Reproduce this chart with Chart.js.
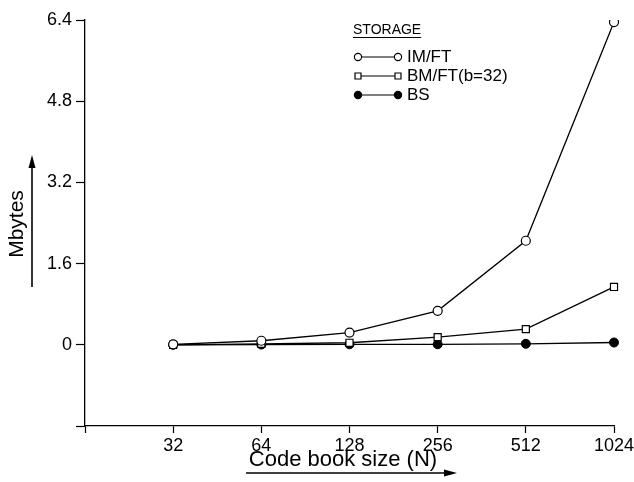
<!DOCTYPE html>
<html>
<head>
<meta charset="utf-8">
<script src="https://cdn.jsdelivr.net/npm/chart.js@4.4.1/dist/chart.umd.min.js"></script>
<style>
  html, body { margin: 0; padding: 0; background: #fff; }
  #wrap { width: 634px; height: 482px; position: relative; }
</style>
</head>
<body>
<div id="wrap"><canvas id="storageChart"></canvas></div>
<script>
// code book sizes (first slot is the empty tick at the axis origin)
const sizes = ["", "32", "64", "128", "256", "512", "1024"];
const imft = [null, 0.01, 0.08, 0.24, 0.67, 2.05, 6.36];
const bmft = [null, 0.0, 0.02, 0.04, 0.15, 0.31, 1.14];
const bs = [null, 0.0, 0.005, 0.01, 0.01, 0.02, 0.045];
const yTicks = [-1.6, 0, 1.6, 3.2, 4.8, 6.4];

const FONT = "'Liberation Sans', Arial, Helvetica, sans-serif";

// legend, axis titles and arrows drawn on top
const decor = {
  id: "decor",
  afterDraw(chart) {
    const c = chart.ctx;
    c.save();
    c.fillStyle = "#000";
    c.strokeStyle = "#000";

    // legend
    c.font = "14px " + FONT;
    c.textBaseline = "middle";
    c.textAlign = "left";
    c.fillText("STORAGE", 353, 30);
    const w = c.measureText("STORAGE").width;
    c.lineWidth = 1;
    c.beginPath();
    c.moveTo(353, 37.5);
    c.lineTo(353 + w, 37.5);
    c.stroke();

    const rows = [
      { label: "IM/FT", y: 57, ds: 0 },
      { label: "BM/FT(b=32)", y: 76, ds: 1 },
      { label: "BS", y: 95, ds: 2 }
    ];
    c.font = "17px " + FONT;
    rows.forEach(r => {
      const ds = chart.data.datasets[r.ds];
      c.lineWidth = 1.2;
      c.beginPath();
      c.moveTo(358, r.y);
      c.lineTo(398, r.y);
      c.stroke();
      [358, 398].forEach(x => {
        c.beginPath();
        if (ds.pointStyle === "rect") {
          c.rect(x - 3, r.y - 3, 6, 6);
        } else {
          c.arc(x, r.y, 3.6, 0, Math.PI * 2);
        }
        c.fillStyle = ds.pointBackgroundColor;
        c.fill();
        c.stroke();
      });
      c.fillStyle = "#000";
      c.fillText(r.label, 407, r.y);
    });

    // y title + arrow
    c.save();
    c.translate(17, 224);
    c.rotate(-Math.PI / 2);
    c.font = "21px " + FONT;
    c.textAlign = "center";
    c.fillText("Mbytes", 0, 0);
    c.restore();
    c.lineWidth = 1.6;
    c.beginPath();
    c.moveTo(32, 287);
    c.lineTo(32, 166);
    c.stroke();
    c.beginPath();
    c.moveTo(32, 155);
    c.lineTo(28.5, 168);
    c.lineTo(35.5, 168);
    c.closePath();
    c.fill();

    // x title + arrow
    c.font = "22px " + FONT;
    c.textAlign = "center";
    c.fillText("Code book size (N)", 343, 460);
    c.beginPath();
    c.moveTo(246, 473);
    c.lineTo(445, 473);
    c.stroke();
    c.beginPath();
    c.moveTo(457, 473);
    c.lineTo(444, 469.5);
    c.lineTo(444, 476.5);
    c.closePath();
    c.fill();

    c.restore();
  }
};

const ctx = document.getElementById("storageChart");

new Chart(ctx, {
  type: "line",
  data: {
    labels: sizes,
    datasets: [
      {
        label: "IM/FT",
        data: imft,
        borderColor: "#000",
        borderWidth: 1.3,
        pointStyle: "circle",
        pointRadius: 4.5,
        pointBorderWidth: 1.2,
        pointBorderColor: "#000",
        pointBackgroundColor: "#fff",
        tension: 0
      },
      {
        label: "BM/FT(b=32)",
        data: bmft,
        borderColor: "#000",
        borderWidth: 1.3,
        pointStyle: "rect",
        pointRadius: 5,
        pointBorderWidth: 1.2,
        pointBorderColor: "#000",
        pointBackgroundColor: "#fff",
        tension: 0
      },
      {
        label: "BS",
        data: bs,
        borderColor: "#000",
        borderWidth: 1.3,
        pointStyle: "circle",
        pointRadius: 4.5,
        pointBorderWidth: 1,
        pointBorderColor: "#000",
        pointBackgroundColor: "#000",
        tension: 0
      }
    ]
  },
  options: {
    responsive: true,
    maintainAspectRatio: false,
    animation: false,
    layout: { padding: { top: 20, right: 20, left: 0, bottom: 0 } },
    plugins: {
      legend: { display: false },
      tooltip: { enabled: false }
    },
    scales: {
      x: {
        type: "category",
        offset: false,
        afterFit: s => { s.height = 56; s.paddingRight = 0; s.paddingLeft = 0; },
        grid: {
          drawOnChartArea: false,
          color: "#000",
          tickLength: 7,
          tickWidth: 1.2
        },
        border: { display: true, color: "#000", width: 1.3 },
        ticks: {
          color: "#000",
          font: { family: FONT, size: 18 },
          padding: 2,
          maxRotation: 0,
          autoSkip: false
        }
      },
      y: {
        min: -1.6,
        max: 6.4,
        afterFit: s => { s.width = 85; },
        afterBuildTicks: s => { s.ticks = yTicks.map(v => ({ value: v })); },
        grid: {
          drawOnChartArea: false,
          color: "#000",
          tickLength: 9,
          tickWidth: 1.2
        },
        border: { display: true, color: "#000", width: 1.3 },
        ticks: {
          color: "#000",
          font: { family: FONT, size: 18 },
          padding: 4,
          callback: v => (v < 0 ? "" : v === 0 ? "0" : v.toFixed(1))
        }
      }
    }
  },
  plugins: [decor]
});
</script>
</body>
</html>
